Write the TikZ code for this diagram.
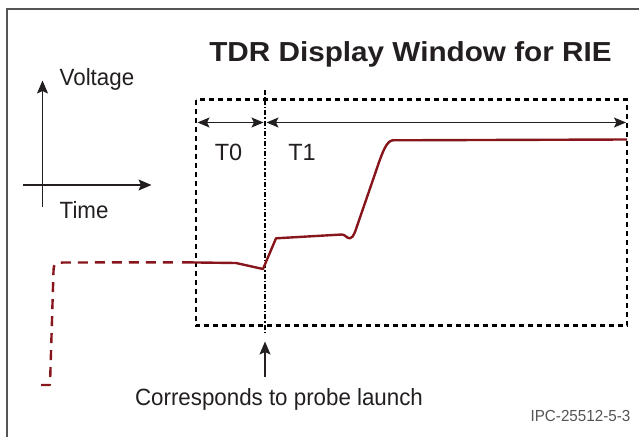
\documentclass[tikz,border=0pt]{standalone}
\usepackage{fontspec}
\setmainfont{Liberation Sans}
\newfontfamily\titlefont{Liberation Sans}[FakeStretch=1.08]
\newfontfamily\narrowfont{Liberation Sans}[FakeStretch=0.95]
\usetikzlibrary{arrows.meta}
\definecolor{trace}{RGB}{135,22,28}
\definecolor{ink}{RGB}{35,31,32}
\definecolor{framegray}{RGB}{85,85,85}
\begin{document}
\begin{tikzpicture}[x=1pt,y=-1pt,
  txt/.style={inner sep=0pt, text=ink, font=\narrowfont\fontsize{23.5}{28}\selectfont},
  axis/.style={draw=ink, line width=1.2pt, -{Stealth[length=13pt,width=11pt,inset=2.5pt]}},
  span/.style={draw=ink, line width=1.1pt, {Stealth[length=12pt,width=10pt,inset=2.5pt]}-{Stealth[length=12pt,width=10pt,inset=2.5pt]}},
  window/.style={draw=black, line width=2.2pt, dash pattern=on 5pt off 4pt},
  marker/.style={draw=black, line width=1.2pt, dash pattern=on 5pt off 2pt on 1.2pt off 2pt},
  tracepath/.style={draw=trace, line width=2.4pt, line join=round},
]
\useasboundingbox (0,0) rectangle (639,436);

% outer frame (runs off the right and bottom edges)
\draw[framegray, line width=2pt] (7,445) -- (7,9.5) -- (650,9.5);

% title
\node[txt, anchor=base, font=\titlefont\bfseries\fontsize{27.5}{32}\selectfont] (title) at (410.5,62) {TDR Display Window for RIE};

% voltage / time key
\coordinate (vbot) at (42.5,207);
\coordinate (vtop) at (42.5,80.5);
\coordinate (hleft) at (23,185);
\coordinate (hright) at (151.5,185);
\draw[axis] (vbot) -- (vtop);
\draw[axis] (hleft) -- (hright);
\node[txt, anchor=base west] (vlabel) at (59.5,85.5) {Voltage};
\node[txt, anchor=base west] (tlabel) at (59.5,218) {Time};

% display window
\coordinate (wnw) at (196,99.5);
\coordinate (wse) at (627,325.5);
\draw[window] (wnw) rectangle (wse);

% probe launch marker
\coordinate (mtop) at (265,90);
\coordinate (mbot) at (265,333);
\draw[marker] (mtop) -- (mbot);

% T0 / T1 spans
\coordinate (s0a) at (197.5,122.5);
\coordinate (s0b) at (263.5,122.5);
\coordinate (s1a) at (266.5,122.5);
\coordinate (s1b) at (626,122.5);
\draw[span] (s0a) -- (s0b);
\draw[span] (s1a) -- (s1b);
\node[txt, anchor=base, font=\rmfamily\fontsize{23.5}{28}\selectfont] (t0) at (228.5,160.5) {T0};
\node[txt, anchor=base, font=\rmfamily\fontsize{23.5}{28}\selectfont] (t1) at (302,160.5) {T1};

% launch annotation
\node[txt, anchor=base] (launch) at (279,405.5) {Corresponds to probe launch};
\coordinate (atail) at (265,377);
\coordinate (ahead) at (265,341.5);
\draw[axis] (atail) -- (ahead);

\node[inner sep=0pt, anchor=base east, text=framegray, font=\narrowfont\fontsize{16}{19}\selectfont] (code) at (630.5,421) {IPC-25512-5-3};

% TDR trace: dashed lead-in, then measured waveform
\draw[tracepath, dash pattern=on 10pt off 7pt] (41,385) -- (50,385) -- (53.5,271)
  .. controls (54,263.5) .. (63,262.5) -- (175,262.3);
\draw[tracepath] (182,262.3) -- (236,263) -- (263,269) -- (276,238.3) -- (342,234.5)
  .. controls (345,234.5) and (347,238.5) .. (350,238.3)
  .. controls (352,238.2) and (353,236) .. (355,232)
  -- (376,171) .. controls (383,150) and (387,140.5) .. (393,140.3) -- (627,139.5);
\end{tikzpicture}
\end{document}
